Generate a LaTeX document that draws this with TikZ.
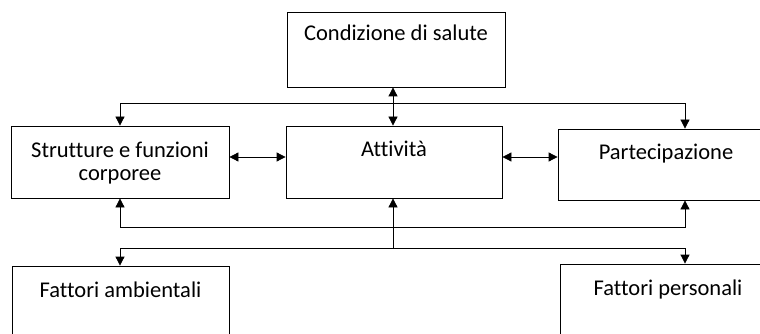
\documentclass[tikz,border=0pt]{standalone}
\usepackage{fontspec}
\setmainfont{Carlito}[Ligatures=CommonOff]
\usetikzlibrary{arrows.meta}
\begin{document}
\begin{tikzpicture}[x=1pt,y=-1pt,
  box/.style={draw=black,line width=0.8pt,rectangle,inner sep=0pt},
  lbl/.style={font=\fontsize{22.5}{23}\selectfont,align=center,inner sep=0pt,anchor=base},
  conn/.style={line width=0.8pt,-{Triangle[length=9pt,width=9pt]}},
  dconn/.style={line width=0.8pt,{Triangle[length=9pt,width=9pt]}-{Triangle[length=9pt,width=9pt]}},
  plain/.style={line width=0.8pt}]
\useasboundingbox (0,0) rectangle (760,334);
\clip (0,0) rectangle (760,334);
% boxes
\node[box,minimum width=218pt,minimum height=75pt] (cond) at (396,49.5) {};
\node[box,minimum width=218pt,minimum height=72pt] (strut) at (120,162) {};
\node[box,minimum width=216pt,minimum height=72pt] (att) at (394,162) {};
\node[box,minimum width=216pt,minimum height=71pt] (part) at (666,164.5) {};
\node[box,minimum width=217pt,minimum height=90pt] (amb) at (120.5,311) {};
\node[box,minimum width=216pt,minimum height=90pt] (pers) at (668,309) {};
% labels
\node[lbl] (tcond) at (396,41) {Condizione di salute};
\node[lbl] (tstrut) at (120,180) {Strutture e funzioni\\corporee};
\node[lbl] (tatt) at (394,157) {Attività};
\node[lbl] (tpart) at (666,160) {Partecipazione};
\node[lbl] (tamb) at (120.5,297) {Fattori ambientali};
\node[lbl] (tpers) at (668,295) {Fattori personali};
% coordinates
\coordinate (jt) at (393,103);
\coordinate (jb) at (393,227);
\coordinate (jf) at (393,248);
% top connectors
\draw[dconn] (cond.south -| jt) -- (att.north -| jt);
\draw[conn] (jt) -| (strut.north);
\draw[conn] (jt) -| (part.north -| 685,0);
% horizontal
\draw[dconn] (strut.east |- 0,157) -- (att.west |- 0,157);
\draw[dconn] (att.east |- 0,157) -- (part.west |- 0,157);
% bottom
\draw[conn] (jb) -- (att.south -| jb);
\draw[conn] (jb) -| (strut.south);
\draw[conn] (jb) -| (part.south -| 685,0);
\draw[plain] (jb) -- (jf);
\draw[conn] (jf) -| (amb.north -| 120,0);
\draw[conn] (jf) -| (pers.north -| 685,0);
\end{tikzpicture}
\end{document}
